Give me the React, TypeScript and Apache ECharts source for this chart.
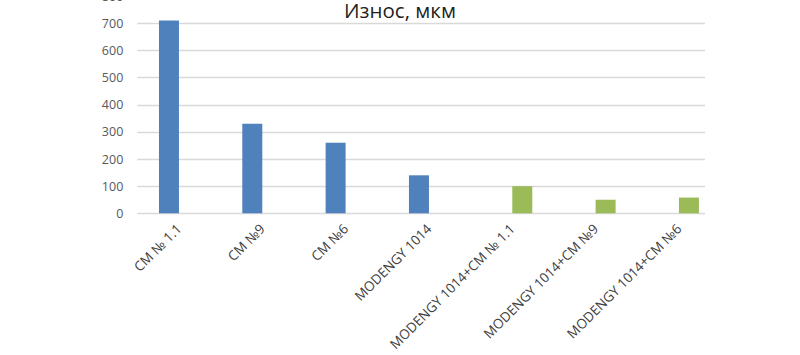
import React, { useEffect, useRef } from "react";
import * as echarts from "echarts";

const categories = [
  "СМ № 1.1",
  "СМ №9",
  "СМ №6",
  "MODENGY 1014",
  "MODENGY 1014+СМ № 1.1",
  "MODENGY 1014+СМ №9",
  "MODENGY 1014+СМ №6",
];
const blueValues = [710, 330, 260, 140, "-", "-", "-"];
const greenValues = ["-", "-", "-", "-", 100, 50, 58];
const yMin = 0;
const yMax = 800;
const yInterval = 100;
const titleText = "Износ, мкм";

const FONT = "'Open Sans', 'DejaVu Sans', sans-serif";

export default function App() {
  const ref = useRef<HTMLDivElement>(null);
  useEffect(() => {
    if (!ref.current) return;
    const chart = echarts.init(ref.current, null, { renderer: "svg" });
    const top = -3.8;
    const height = 217.1;
    chart.setOption({
      animation: false,
      backgroundColor: "#ffffff",
      title: {
        text: titleText,
        left: "center",
        top: 0,
        padding: 0,
        textStyle: {
          fontFamily: FONT,
          fontSize: 20.5,
          lineHeight: 20,
          fontWeight: "normal",
          color: "#1f1f1f",
        },
      },
      grid: [
        { left: 137.3, width: 567.7, top, height, outerBoundsMode: "none", containLabel: false },
        { left: 137.3, width: 583.3, top, height, outerBoundsMode: "none", containLabel: false },
      ],
      xAxis: [
        {
          type: "category",
          gridIndex: 0,
          data: categories,
          axisLine: { show: false },
          axisTick: { show: false },
          axisLabel: { show: false },
        },
        {
          type: "category",
          gridIndex: 1,
          data: categories,
          axisLine: { show: false },
          axisTick: { show: false },
          axisLabel: {
            interval: 0,
            rotate: 45,
            margin: 13,
            fontFamily: FONT,
            fontSize: 13.5,
            color: "#404040",
          },
        },
      ],
      yAxis: [
        {
          type: "value",
          gridIndex: 0,
          min: yMin,
          max: yMax,
          interval: yInterval,
          axisLine: { show: false },
          axisTick: { show: false },
          axisLabel: {
            margin: 14,
            fontFamily: FONT,
            fontSize: 12.5,
            color: "#595959",
          },
          splitLine: { lineStyle: { color: "#d9d9d9", width: 1.3 } },
        },
        {
          type: "value",
          gridIndex: 1,
          min: yMin,
          max: yMax,
          interval: yInterval,
          show: false,
          splitLine: { show: false },
        },
      ],
      series: [
        {
          type: "bar",
          xAxisIndex: 1,
          yAxisIndex: 1,
          data: blueValues,
          barWidth: 20,
          barGap: "0%",
          itemStyle: { color: "#4f81bd" },
        },
        {
          type: "bar",
          xAxisIndex: 1,
          yAxisIndex: 1,
          data: greenValues,
          barWidth: 20,
          barGap: "0%",
          itemStyle: { color: "#9bbb59" },
        },
      ],
    });
    return () => chart.dispose();
  }, []);
  return (
    <div
      ref={ref}
      style={{ position: "fixed", left: 0, top: 0, width: 800, height: 355, background: "#fff" }}
    />
  );
}
